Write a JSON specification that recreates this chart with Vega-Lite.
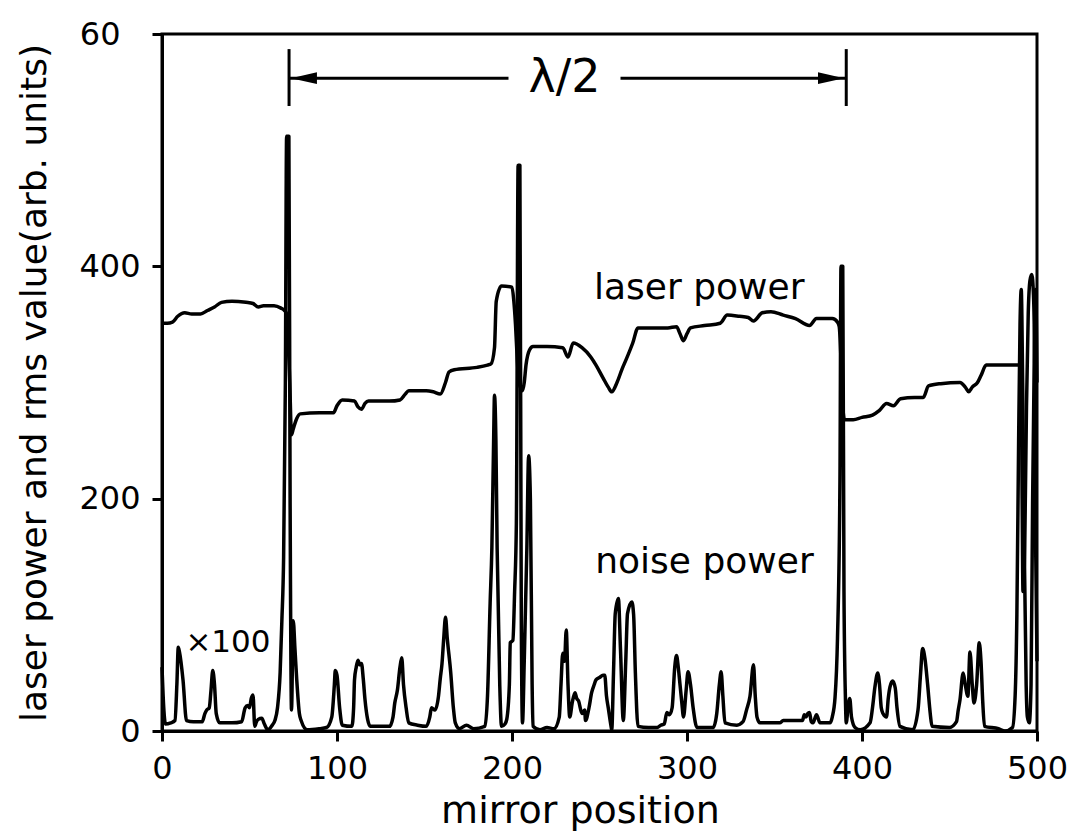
{
  "$schema": "https://vega.github.io/schema/vega-lite/v6.json",
  "width": 875,
  "height": 697,
  "autosize": {"type": "none"},
  "padding": {"left": 162, "top": 34, "right": 44, "bottom": 109},
  "background": "white",
  "config": {
    "font": "DejaVu Sans",
    "view": {"stroke": "black", "strokeWidth": 3},
    "axis": {"grid": false, "domainColor": "black", "domainWidth": 3, "tickColor": "black", "tickWidth": 3, "tickSize": 10, "labelColor": "black", "titleColor": "black", "labelFont": "DejaVu Sans", "titleFont": "DejaVu Sans", "labelFontSize": 32, "titleFontSize": 36, "titleFontWeight": "normal"}
  },
  "datasets": {
    "laser": [
      {"x":0,"v":351},{"x":3,"v":351},{"x":6,"v":352},{"x":9,"v":357},{"x":13,"v":360},{"x":17,"v":359},{"x":22,"v":359},{"x":26,"v":362},{"x":30,"v":365},{"x":34,"v":369},{"x":40,"v":370},{"x":48,"v":369},{"x":52,"v":368},{"x":55,"v":365},{"x":58,"v":366},{"x":64,"v":366},{"x":68,"v":364},{"x":70,"v":362},{"x":71,"v":360},{"x":72,"v":340},{"x":73,"v":300},{"x":74,"v":255},{"x":75,"v":260},{"x":77,"v":269},{"x":79,"v":273},{"x":90,"v":274},{"x":98,"v":274},{"x":100,"v":280},{"x":103,"v":285},{"x":110,"v":284},{"x":112,"v":279},{"x":114,"v":277},{"x":116,"v":282},{"x":118,"v":284},{"x":130,"v":284},{"x":136,"v":285},{"x":139,"v":290},{"x":141,"v":293},{"x":151,"v":293},{"x":155,"v":292},{"x":159,"v":290},{"x":162,"v":300},{"x":164,"v":309},{"x":167,"v":311},{"x":180,"v":313},{"x":186,"v":315},{"x":188,"v":316},{"x":190,"v":330},{"x":191,"v":370},{"x":194,"v":383},{"x":200,"v":382},{"x":201,"v":371},{"x":202,"v":350},{"x":203,"v":320},{"x":204,"v":300},{"x":206,"v":293},{"x":207,"v":300},{"x":208,"v":315},{"x":210,"v":328},{"x":212,"v":331},{"x":220,"v":331},{"x":229,"v":330},{"x":232,"v":322},{"x":235,"v":334},{"x":240,"v":330},{"x":245,"v":322},{"x":248,"v":315},{"x":252,"v":304},{"x":255,"v":296},{"x":257,"v":292},{"x":260,"v":300},{"x":263,"v":312},{"x":265,"v":319},{"x":269,"v":334},{"x":272,"v":347},{"x":280,"v":347},{"x":289,"v":347},{"x":294,"v":348},{"x":296,"v":342},{"x":298,"v":336},{"x":300,"v":342},{"x":302,"v":347},{"x":310,"v":349},{"x":319,"v":351},{"x":323,"v":358},{"x":330,"v":357},{"x":335,"v":356},{"x":338,"v":353},{"x":343,"v":360},{"x":348,"v":361},{"x":355,"v":358},{"x":362,"v":355},{"x":370,"v":349},{"x":374,"v":355},{"x":383,"v":355},{"x":386,"v":352},{"x":387,"v":348},{"x":388,"v":320},{"x":389,"v":280},{"x":390,"v":268},{"x":395,"v":268},{"x":400,"v":270},{"x":406,"v":272},{"x":410,"v":276},{"x":414,"v":282},{"x":418,"v":280},{"x":422,"v":286},{"x":430,"v":287},{"x":435,"v":287},{"x":438,"v":297},{"x":445,"v":299},{"x":456,"v":300},{"x":459,"v":296},{"x":461,"v":292},{"x":463,"v":296},{"x":466,"v":300},{"x":468,"v":306},{"x":471,"v":315},{"x":480,"v":315},{"x":490,"v":315},{"x":491,"v":300},{"x":491.5,"v":200},{"x":492,"v":120},{"x":493,"v":160},{"x":494,"v":280},{"x":495,"v":360},{"x":496,"v":388},{"x":497,"v":393},{"x":498,"v":375},{"x":498.8,"v":300},{"x":499.3,"v":150},{"x":500,"v":60}
    ],
    "noise": [
      {"x":0,"v":55},{"x":1,"v":20},{"x":2,"v":6},{"x":5,"v":7},{"x":7.4,"v":9},{"x":8.5,"v":40},{"x":9.3,"v":72},{"x":10,"v":68},{"x":12,"v":44},{"x":14,"v":9},{"x":18,"v":8},{"x":23,"v":8},{"x":24.5,"v":15},{"x":25.5,"v":18},{"x":27,"v":20},{"x":28,"v":35},{"x":29,"v":52},{"x":30,"v":40},{"x":31,"v":15},{"x":33,"v":7},{"x":40,"v":7},{"x":45.5,"v":8},{"x":47.5,"v":20},{"x":49,"v":22},{"x":50,"v":20},{"x":51,"v":28},{"x":52,"v":31},{"x":53,"v":4},{"x":54,"v":8},{"x":55,"v":10},{"x":57,"v":11},{"x":58.5,"v":6},{"x":60.5,"v":1},{"x":63,"v":5},{"x":64.5,"v":9},{"x":66,"v":20},{"x":67.5,"v":50},{"x":68.5,"v":95},{"x":69.5,"v":150},{"x":70.5,"v":300},{"x":71.2,"v":512},{"x":72.5,"v":512},{"x":73.2,"v":200},{"x":74,"v":18},{"x":75,"v":95},{"x":76,"v":70},{"x":77,"v":44},{"x":78.5,"v":15},{"x":79.5,"v":9},{"x":83,"v":1},{"x":90,"v":2},{"x":94,"v":3},{"x":97,"v":12},{"x":98.5,"v":40},{"x":99,"v":52},{"x":100,"v":48},{"x":101.5,"v":20},{"x":103,"v":5},{"x":108.5,"v":4},{"x":109.5,"v":20},{"x":110,"v":44},{"x":111,"v":55},{"x":112,"v":61},{"x":113,"v":57},{"x":114,"v":58},{"x":115,"v":45},{"x":116,"v":27},{"x":117.5,"v":10},{"x":119,"v":4},{"x":130,"v":4},{"x":132,"v":12},{"x":133,"v":24},{"x":134.5,"v":35},{"x":136,"v":55},{"x":137,"v":63},{"x":138,"v":40},{"x":139.5,"v":20},{"x":141,"v":7},{"x":146,"v":5},{"x":151,"v":4},{"x":153,"v":12},{"x":154,"v":20},{"x":156,"v":18},{"x":158,"v":30},{"x":159,"v":45},{"x":160,"v":58},{"x":161,"v":80},{"x":162,"v":98},{"x":163,"v":80},{"x":165,"v":50},{"x":166.5,"v":20},{"x":167.6,"v":7},{"x":170,"v":2},{"x":174,"v":5},{"x":178,"v":2},{"x":184.5,"v":4},{"x":186,"v":30},{"x":187.5,"v":110},{"x":188.5,"v":158},{"x":189.5,"v":250},{"x":190,"v":289},{"x":190.8,"v":250},{"x":191.5,"v":158},{"x":193,"v":40},{"x":194,"v":4},{"x":196,"v":6},{"x":197,"v":10},{"x":198.5,"v":40},{"x":199,"v":76},{"x":200.5,"v":78},{"x":201.5,"v":120},{"x":202.5,"v":179},{"x":203.5,"v":487},{"x":204.5,"v":487},{"x":205.3,"v":100},{"x":206,"v":7},{"x":207,"v":60},{"x":208.5,"v":158},{"x":209.5,"v":237},{"x":210.5,"v":200},{"x":211.5,"v":40},{"x":212,"v":4},{"x":216,"v":1},{"x":220,"v":3},{"x":224,"v":2},{"x":227,"v":12},{"x":228,"v":40},{"x":229,"v":67},{"x":230,"v":60},{"x":231,"v":87},{"x":232,"v":40},{"x":233,"v":12},{"x":234.5,"v":25},{"x":236,"v":33},{"x":237,"v":28},{"x":238,"v":26},{"x":240,"v":15},{"x":241.5,"v":18},{"x":242,"v":9},{"x":244,"v":20},{"x":245.5,"v":33},{"x":247,"v":40},{"x":248,"v":44},{"x":250,"v":46},{"x":252,"v":48},{"x":253,"v":48},{"x":254,"v":30},{"x":255,"v":20},{"x":256.5,"v":5},{"x":257,"v":1},{"x":258,"v":50},{"x":259,"v":101},{"x":260.8,"v":114},{"x":262,"v":70},{"x":263.6,"v":9},{"x":265,"v":60},{"x":266,"v":101},{"x":268.5,"v":111},{"x":269.5,"v":100},{"x":270.5,"v":50},{"x":272,"v":4},{"x":278,"v":3},{"x":283,"v":3},{"x":285,"v":5},{"x":287,"v":6},{"x":288.5,"v":16},{"x":290,"v":14},{"x":291.5,"v":20},{"x":293,"v":55},{"x":294,"v":65},{"x":295,"v":55},{"x":296,"v":40},{"x":297,"v":25},{"x":298,"v":12},{"x":299.5,"v":35},{"x":300.6,"v":51},{"x":302,"v":40},{"x":303.5,"v":20},{"x":305.7,"v":3},{"x":310,"v":3},{"x":315,"v":3},{"x":317,"v":15},{"x":318.5,"v":40},{"x":319.5,"v":51},{"x":320.5,"v":30},{"x":321.7,"v":7},{"x":328.5,"v":5},{"x":332,"v":8},{"x":334,"v":18},{"x":336,"v":30},{"x":338,"v":57},{"x":339,"v":30},{"x":340,"v":12},{"x":341.7,"v":7},{"x":353,"v":7},{"x":355,"v":9},{"x":366,"v":9},{"x":367,"v":14},{"x":368,"v":12},{"x":369,"v":15},{"x":370,"v":16},{"x":371,"v":8},{"x":372,"v":7},{"x":374,"v":14},{"x":376,"v":7},{"x":381.7,"v":7},{"x":383,"v":12},{"x":384.6,"v":29},{"x":386,"v":80},{"x":387.4,"v":216},{"x":388,"v":400},{"x":389,"v":400},{"x":389.7,"v":120},{"x":390.5,"v":30},{"x":391,"v":7},{"x":392,"v":20},{"x":393,"v":28},{"x":394,"v":12},{"x":396,"v":3},{"x":399,"v":1},{"x":404.6,"v":7},{"x":406,"v":20},{"x":407.4,"v":38},{"x":409,"v":50},{"x":410,"v":40},{"x":411,"v":20},{"x":412,"v":15},{"x":414,"v":12},{"x":415,"v":28},{"x":416,"v":38},{"x":417.5,"v":43},{"x":419,"v":37},{"x":420,"v":20},{"x":421.7,"v":4},{"x":429,"v":1},{"x":432,"v":18},{"x":433.5,"v":50},{"x":434.6,"v":71},{"x":436,"v":62},{"x":437.5,"v":40},{"x":439,"v":15},{"x":440,"v":4},{"x":450,"v":3},{"x":454,"v":8},{"x":455,"v":18},{"x":456,"v":27},{"x":457.8,"v":50},{"x":459,"v":40},{"x":460.5,"v":30},{"x":461.7,"v":68},{"x":463,"v":40},{"x":464,"v":24},{"x":465.5,"v":40},{"x":467,"v":76},{"x":468,"v":60},{"x":469,"v":25},{"x":470,"v":4},{"x":478,"v":2},{"x":481.7,"v":0},{"x":486,"v":3},{"x":487.5,"v":30},{"x":488.5,"v":100},{"x":489.5,"v":250},{"x":490.3,"v":350},{"x":491,"v":380},{"x":491.8,"v":300},{"x":492.8,"v":150},{"x":493.8,"v":40},{"x":494.5,"v":12},{"x":495.6,"v":7},{"x":496.6,"v":40},{"x":497.5,"v":200},{"x":498.5,"v":330},{"x":499.2,"v":380},{"x":500,"v":300}
    ]
  },
  "layer": [
    {
      "data": {"name": "laser"},
      "mark": {"type": "line", "color": "black", "strokeWidth": 3.5, "strokeJoin": "round", "interpolate": "monotone"},
      "encoding": {
        "x": {"field": "x", "type": "quantitative", "scale": {"domain": [0, 500], "nice": false},
          "axis": {"values": [0, 100, 200, 300, 400, 500], "title": "mirror position", "labelFlush": false, "labelPadding": 12, "titleX": 418, "titleY": 80, "titleBaseline": "middle", "titleFontSize": 38}},
        "y": {"field": "v", "type": "quantitative", "scale": {"domain": [0, 600], "nice": false},
          "axis": {"values": [0, 200, 400, 600], "labelExpr": "datum.value == 600 ? '60' : datum.label", "labelPadding": {"condition": {"test": "datum.value == 600", "value": 32}, "value": 12}, "title": "laser power and rms value(arb. units)", "titleX": -128, "titleY": 348.5, "titleAngle": -90, "titleAlign": "center", "titleBaseline": "middle"}}
      }
    },
    {
      "data": {"name": "noise"},
      "mark": {"type": "line", "color": "black", "strokeWidth": 3.5, "strokeJoin": "round", "interpolate": "monotone"},
      "encoding": {
        "x": {"field": "x", "type": "quantitative"},
        "y": {"field": "v", "type": "quantitative"}
      }
    },
    {
      "data": {"values": [{"x": 72.6, "x2": 198, "v": 562}, {"x": 262, "x2": 390.3, "v": 562}]},
      "mark": {"type": "rule", "color": "black", "strokeWidth": 3},
      "encoding": {"x": {"field": "x", "type": "quantitative"}, "x2": {"field": "x2"}, "y": {"field": "v", "type": "quantitative"}}
    },
    {
      "data": {"values": [{"x": 72.6, "v": 538, "v2": 587}, {"x": 391, "v": 538, "v2": 587}]},
      "mark": {"type": "rule", "color": "black", "strokeWidth": 3},
      "encoding": {"x": {"field": "x", "type": "quantitative"}, "y": {"field": "v", "type": "quantitative"}, "y2": {"field": "v2"}}
    },
    {
      "data": {"values": [{"x": 81.1, "v": 562}]},
      "mark": {"type": "point", "shape": "M-1,0L1,-0.45L1,0.45Z", "size": 676, "filled": true, "color": "black", "opacity": 1},
      "encoding": {"x": {"field": "x", "type": "quantitative"}, "y": {"field": "v", "type": "quantitative"}}
    },
    {
      "data": {"values": [{"x": 382.3, "v": 562}]},
      "mark": {"type": "point", "shape": "M1,0L-1,-0.45L-1,0.45Z", "size": 676, "filled": true, "color": "black", "opacity": 1},
      "encoding": {"x": {"field": "x", "type": "quantitative"}, "y": {"field": "v", "type": "quantitative"}}
    },
    {
      "data": {"values": [{"x": 230, "v": 562, "t": "λ/2"}]},
      "mark": {"type": "text", "fontSize": 46, "align": "center", "baseline": "middle", "color": "black"},
      "encoding": {"x": {"field": "x", "type": "quantitative"}, "y": {"field": "v", "type": "quantitative"}, "text": {"field": "t"}}
    },
    {
      "data": {"values": [{"x": 307, "v": 372, "t": "laser power"}, {"x": 310, "v": 136, "t": "noise power"}]},
      "mark": {"type": "text", "fontSize": 36, "align": "center", "baseline": "alphabetic", "color": "black"},
      "encoding": {"x": {"field": "x", "type": "quantitative"}, "y": {"field": "v", "type": "quantitative"}, "text": {"field": "t"}}
    },
    {
      "data": {"values": [{"x": 37.7, "v": 68, "t": "×100"}]},
      "mark": {"type": "text", "fontSize": 31, "align": "center", "baseline": "alphabetic", "color": "black"},
      "encoding": {"x": {"field": "x", "type": "quantitative"}, "y": {"field": "v", "type": "quantitative"}, "text": {"field": "t"}}
    }
  ]
}
